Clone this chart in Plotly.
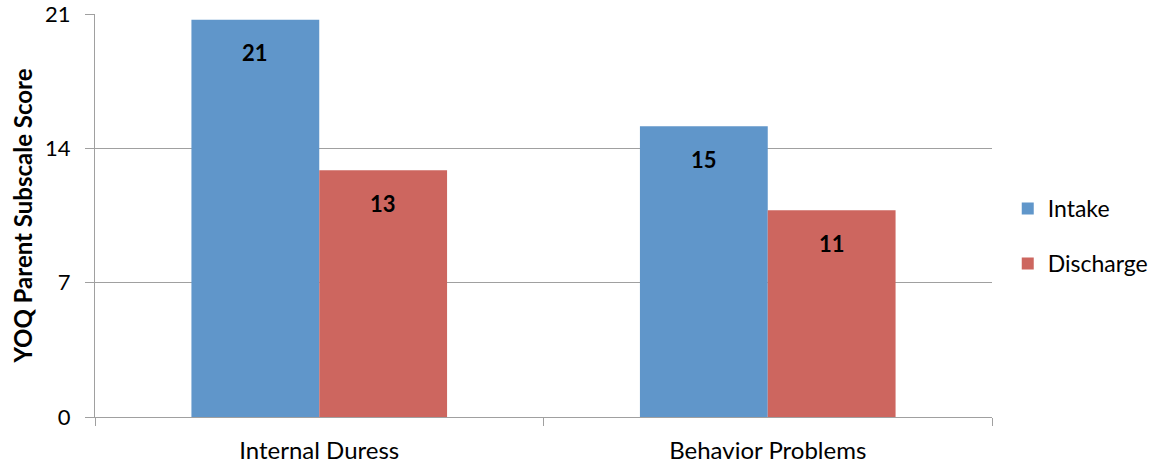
import plotly.graph_objects as go

categories = ["Internal Duress", "Behavior Problems"]
intake = [20.7, 15.15]
discharge = [12.86, 10.78]
y_ticks = [0, 7, 14, 21]

FONT = "Lato"
BLUE = "#6096ca"
RED = "#cd665f"
GRID = "#a0a0a0"

fig = go.Figure()
fig.add_trace(go.Bar(name="Intake", x=categories, y=intake, marker_color=BLUE,
                     marker_line_width=0, legendgroup="a"))
fig.add_trace(go.Bar(name="Discharge", x=categories, y=discharge, marker_color=RED,
                     marker_line_width=0, legendgroup="b"))

# value labels placed just inside the top of each bar
plot_w = 1157 - 95 - 165
bargap = 0.43
half_bar = plot_w / len(categories) * (1 - bargap) / 4
for series, sign in ((intake, -1), (discharge, 1)):
    for cat, val in zip(categories, series):
        fig.add_annotation(x=cat, y=val, text=f"<b>{val:.0f}</b>", showarrow=False,
                           xshift=sign * half_bar, yshift=-33,
                           font=dict(family=FONT, size=22, color="black"))

fig.update_layout(
    width=1157, height=468,
    margin=dict(l=95, r=165, t=14, b=51, autoexpand=False),
    barmode="group", bargap=bargap, bargroupgap=0,
    plot_bgcolor="white", paper_bgcolor="white",
    font=dict(family=FONT, size=22, color="black"),
    legend=dict(xref="container", x=0.871, xanchor="left", y=0.449, yanchor="middle",
                font=dict(size=23), tracegroupgap=22, traceorder="grouped"),
)
fig.update_yaxes(range=[0, 21.0001], tickvals=y_ticks, showgrid=True, gridcolor=GRID,
                 gridwidth=1.2, showline=True, linecolor=GRID, linewidth=1.2,
                 ticks="outside", ticklen=9, tickcolor=GRID, ticklabelstandoff=10,
                 ticklabeloverflow="allow", zeroline=False, automargin=False,
                 tickfont=dict(size=22),
                 title=dict(text="<b>YOQ Parent Subscale Score</b>", standoff=5,
                            font=dict(size=24)))
fig.update_xaxes(showline=True, linecolor=GRID, linewidth=1.2, ticks="outside",
                 tickson="boundaries", ticklen=8, tickcolor=GRID,
                 ticklabelstandoff=12, automargin=False, tickfont=dict(size=24))

fig.write_html("out.html")
